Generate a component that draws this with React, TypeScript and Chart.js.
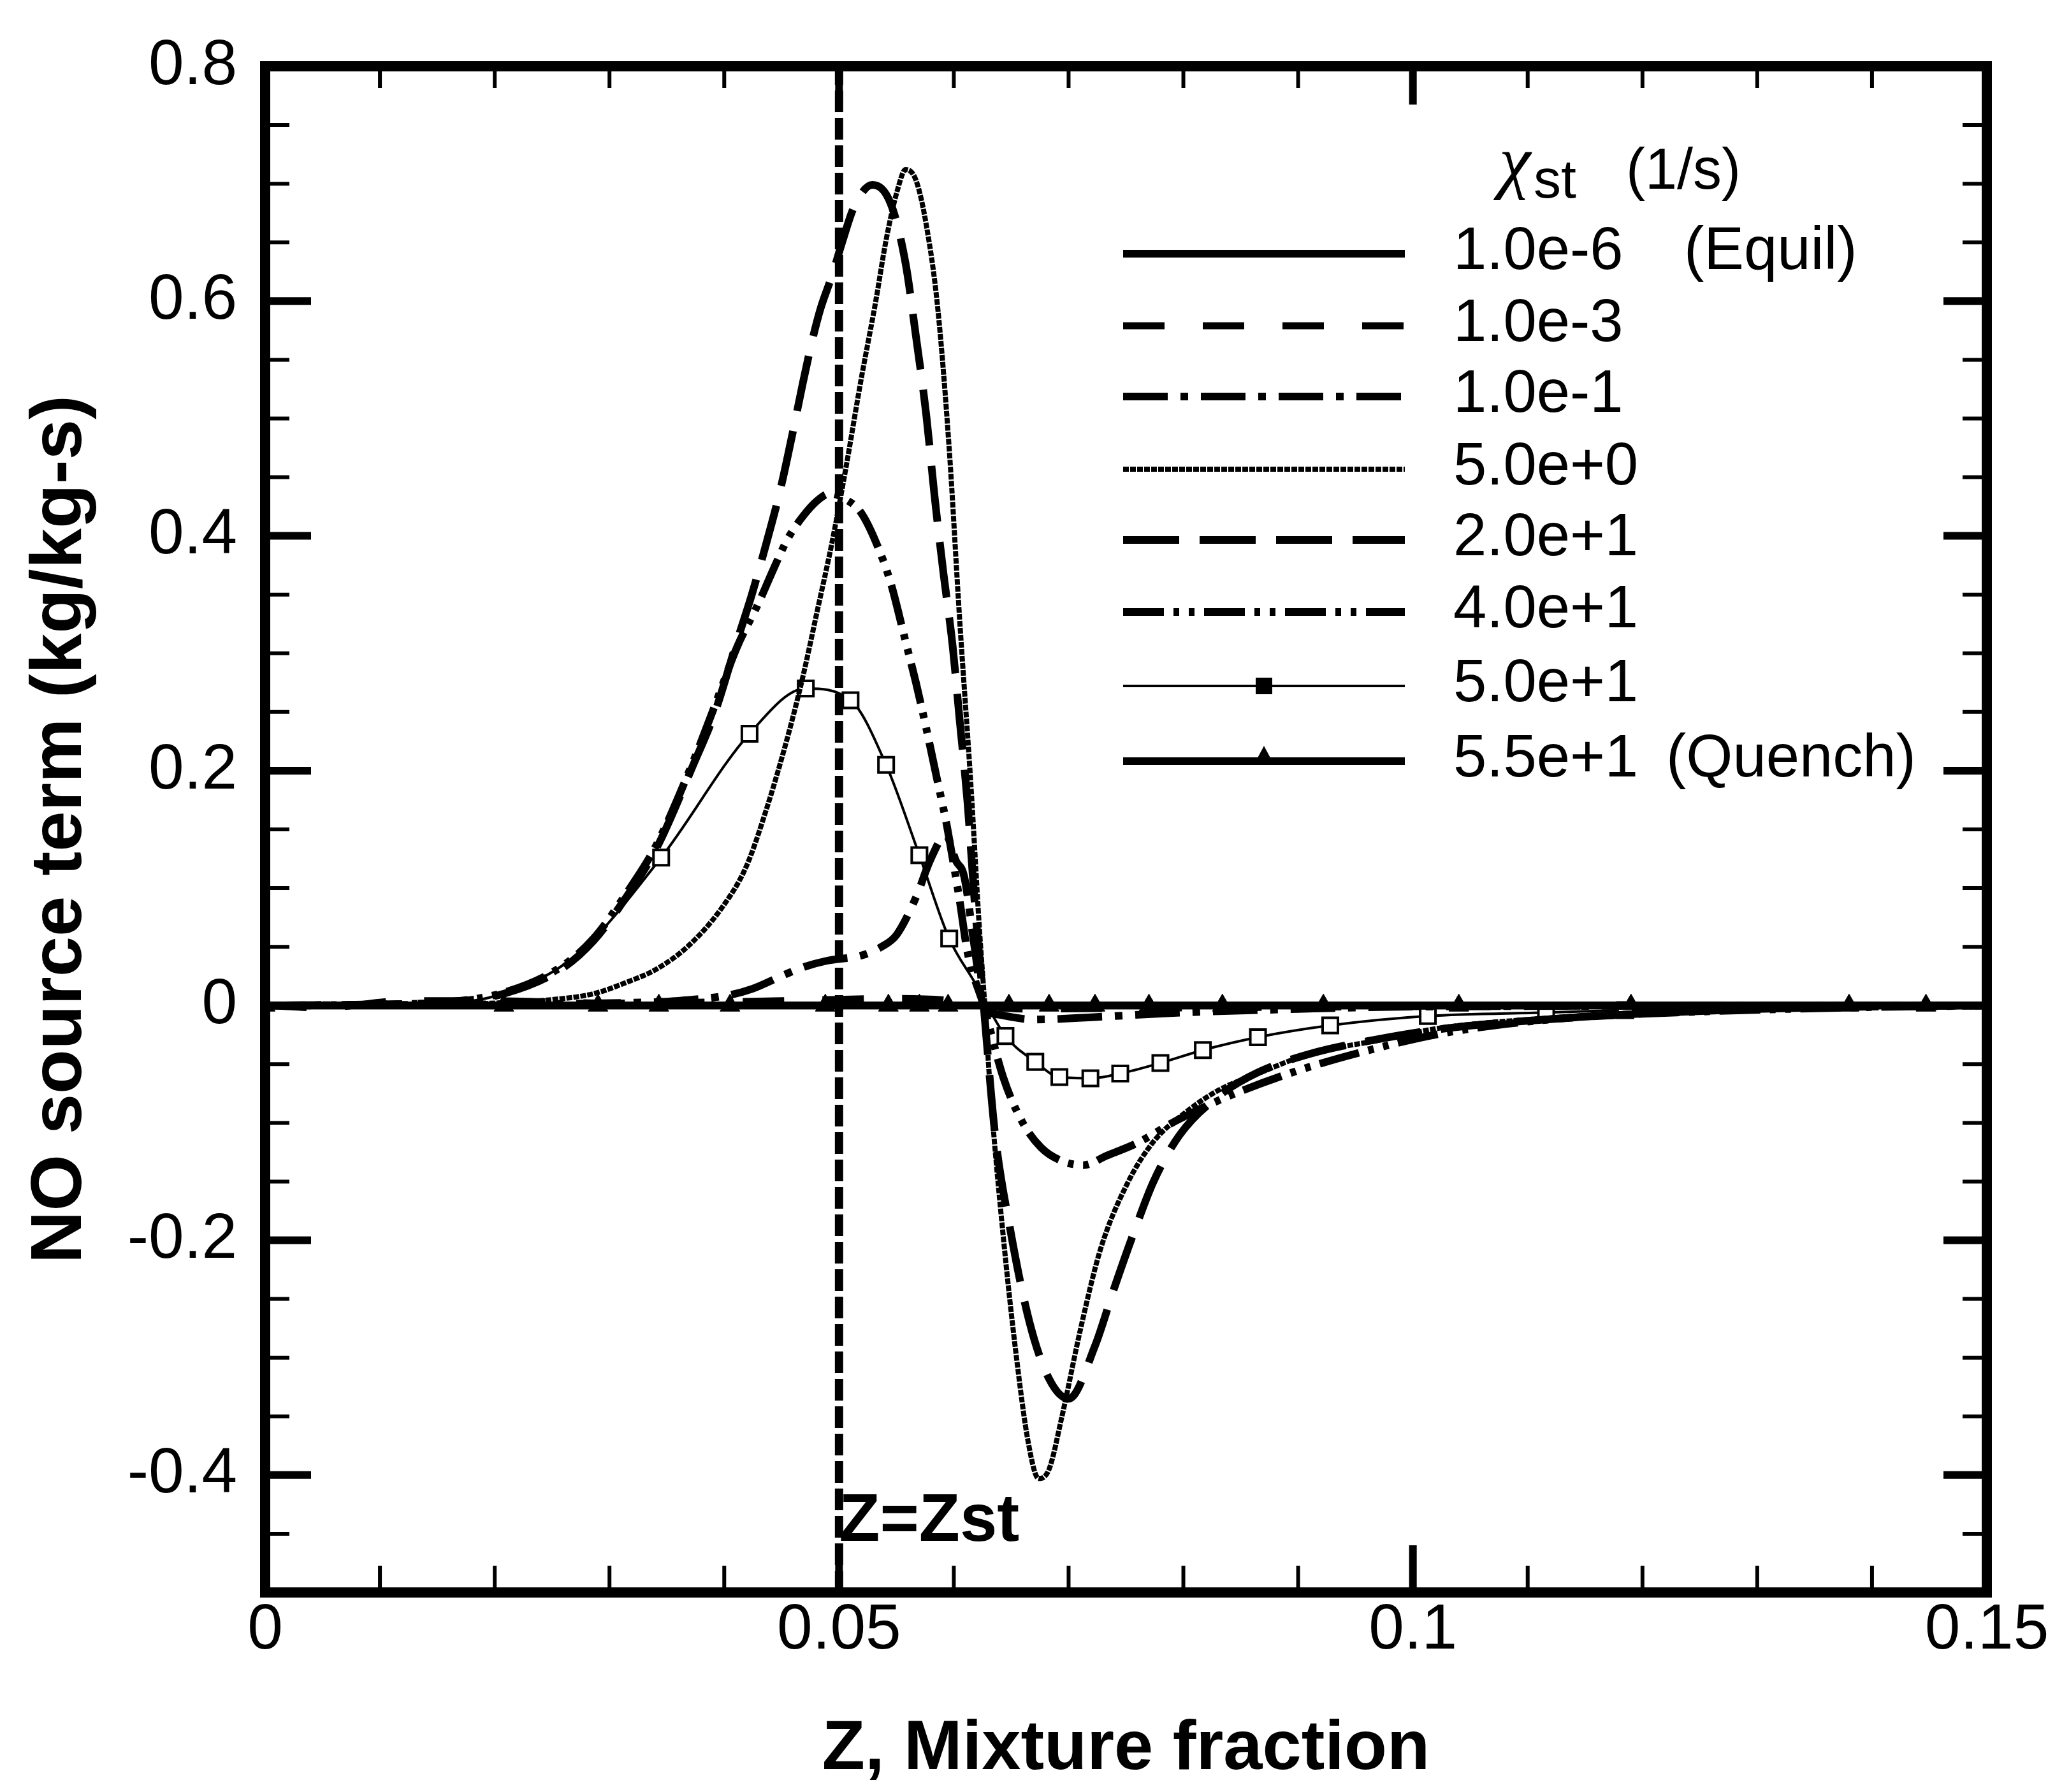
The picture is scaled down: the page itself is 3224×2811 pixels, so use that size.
import React, { useEffect, useRef } from "react";
import { Chart, registerables } from "chart.js";

Chart.register(...registerables);

const W = 3224;
const H = 2811;
const FONT = "'Liberation Sans', Arial, Helvetica, sans-serif";

// ---- axis ticks ----
const xMajorTicks = [0, 0.05, 0.1, 0.15];
const xTickLabels = ["0", "0.05", "0.1", "0.15"];
const xMinorTicks = [0.01, 0.02, 0.03, 0.04, 0.06, 0.07, 0.08, 0.09, 0.11, 0.12, 0.13, 0.14];
const yMajorTicks = [-0.4, -0.2, 0, 0.2, 0.4, 0.6, 0.8];
const yTickLabels = ["-0.4", "-0.2", "0", "0.2", "0.4", "0.6", "0.8"];
const yMinorTicks = [-0.45, -0.35, -0.3, -0.25, -0.15, -0.1, -0.05, 0.05, 0.1, 0.15, 0.25, 0.3, 0.35, 0.45, 0.5, 0.55, 0.65, 0.7, 0.75];

// ---- series: chi_st = 1.0e-6 (Equil) ----
const eqX = [0, 0.15];
const eqY = [0, 0];

// chi_st = 1.0e-3
const c1e3X = [0, 0.005, 0.012, 0.02, 0.03, 0.045, 0.055, 0.06, 0.0625, 0.066, 0.08, 0.1, 0.15];
const c1e3Y = [0, -0.002, 0.004, 0.004, 0.002, 0.004, 0.006, 0.004, 0, -0.003, -0.002, -0.001, 0];

// chi_st = 1.0e-1
const c1e1X = [0, 0.02, 0.03, 0.036, 0.0405, 0.0424, 0.0452, 0.047, 0.0489, 0.0521, 0.0537, 0.055, 0.0567, 0.058, 0.0593, 0.0602, 0.0609, 0.0618, 0.0626, 0.064, 0.067, 0.072, 0.08, 0.09, 0.1, 0.15];
const c1e1Y = [0, 0.001, 0.002, 0.004, 0.009, 0.014, 0.026, 0.033, 0.038, 0.043, 0.05, 0.06, 0.092, 0.125, 0.145, 0.123, 0.11, 0.05, 0, -0.008, -0.012, -0.01, -0.006, -0.003, -0.001, 0];

// chi_st = 5.0e+0
const c5X = [0, 0.015, 0.02, 0.025, 0.0286, 0.0313, 0.0341, 0.0369, 0.0397, 0.0419, 0.0437, 0.0455, 0.0468, 0.0481, 0.0494, 0.0506, 0.0519, 0.0532, 0.0541, 0.0551, 0.0558, 0.0567, 0.0576, 0.0586, 0.0596, 0.0605, 0.0615, 0.0622, 0.0627, 0.0632, 0.0643, 0.0654, 0.0665, 0.0674, 0.0683, 0.0694, 0.0711, 0.0728, 0.0751, 0.0774, 0.0802, 0.0831, 0.0865, 0.0911, 0.0968, 0.1025, 0.11, 0.12, 0.13, 0.14, 0.15];
const c5Y = [0, 0.001, 0.002, 0.005, 0.01, 0.019, 0.031, 0.051, 0.082, 0.118, 0.168, 0.228, 0.278, 0.336, 0.395, 0.458, 0.532, 0.6, 0.652, 0.695, 0.712, 0.703, 0.665, 0.594, 0.474, 0.33, 0.186, 0.07, 0, -0.075, -0.196, -0.295, -0.373, -0.403, -0.395, -0.351, -0.273, -0.207, -0.152, -0.116, -0.091, -0.072, -0.058, -0.041, -0.03, -0.019, -0.012, -0.006, -0.003, -0.001, 0];

// chi_st = 2.0e+1
const c20X = [0, 0.01, 0.016, 0.0208, 0.0258, 0.0286, 0.0313, 0.0341, 0.0373, 0.0392, 0.0411, 0.0424, 0.0437, 0.0449, 0.0459, 0.0468, 0.0477, 0.0484, 0.0494, 0.0503, 0.0513, 0.0529, 0.0545, 0.0558, 0.0567, 0.0576, 0.0583, 0.0591, 0.0599, 0.0605, 0.0612, 0.0618, 0.0626, 0.0636, 0.0649, 0.0666, 0.0683, 0.07, 0.0723, 0.074, 0.0757, 0.0774, 0.0797, 0.0831, 0.0865, 0.0911, 0.0968, 0.1025, 0.11, 0.12, 0.13, 0.14, 0.15];
const c20Y = [0, 0.001, 0.003, 0.01, 0.031, 0.055, 0.09, 0.134, 0.205, 0.25, 0.31, 0.35, 0.395, 0.44, 0.485, 0.528, 0.568, 0.594, 0.622, 0.651, 0.68, 0.699, 0.683, 0.632, 0.57, 0.503, 0.436, 0.368, 0.306, 0.244, 0.172, 0.09, 0, -0.11, -0.19, -0.27, -0.318, -0.335, -0.29, -0.24, -0.193, -0.15, -0.11, -0.077, -0.057, -0.041, -0.029, -0.02, -0.013, -0.007, -0.003, -0.001, 0];

// chi_st = 4.0e+1
const c40X = [0, 0.01, 0.016, 0.0208, 0.0258, 0.0286, 0.0313, 0.0341, 0.0373, 0.0392, 0.0411, 0.043, 0.0443, 0.0455, 0.0468, 0.0481, 0.0492, 0.0506, 0.0519, 0.0532, 0.0545, 0.0558, 0.0567, 0.0576, 0.0586, 0.0593, 0.0599, 0.0605, 0.0612, 0.0626, 0.0643, 0.0659, 0.0676, 0.0693, 0.0713, 0.0733, 0.076, 0.0794, 0.0834, 0.0895, 0.0962, 0.103, 0.113, 0.123, 0.137, 0.15];
const c40Y = [0, 0.001, 0.003, 0.011, 0.033, 0.057, 0.093, 0.137, 0.208, 0.256, 0.305, 0.343, 0.372, 0.397, 0.416, 0.43, 0.436, 0.431, 0.42, 0.395, 0.36, 0.31, 0.275, 0.236, 0.19, 0.158, 0.125, 0.09, 0.045, 0, -0.061, -0.098, -0.121, -0.132, -0.136, -0.128, -0.117, -0.098, -0.0795, -0.057, -0.038, -0.023, -0.011, -0.006, -0.002, 0];

// chi_st = 5.0e+1 (square symbols)
const c50X = [0, 0.015, 0.02, 0.027, 0.0345, 0.0422, 0.0471, 0.051, 0.0541, 0.057, 0.0596, 0.0618, 0.0645, 0.0671, 0.0692, 0.0719, 0.0745, 0.078, 0.0817, 0.0865, 0.0928, 0.1013, 0.1116, 0.1185, 0.13, 0.15];
const c50Y = [0, 0.002, 0.008, 0.042, 0.126, 0.2315, 0.27, 0.26, 0.205, 0.128, 0.057, 0.02, -0.026, -0.048, -0.061, -0.062, -0.058, -0.049, -0.038, -0.027, -0.017, -0.009, -0.006, -0.004, -0.002, 0];
const c50Marks = [0, 0, 0, 0, 1, 1, 1, 1, 1, 1, 1, 0, 1, 1, 1, 1, 1, 1, 1, 1, 1, 1, 1, 1, 0, 0];

// chi_st = 5.5e+1 (Quench, triangle symbols)
const c55X = [0, 0.0208, 0.029, 0.0343, 0.0405, 0.0488, 0.0543, 0.057, 0.0595, 0.0648, 0.0683, 0.0723, 0.077, 0.0834, 0.0922, 0.104, 0.119, 0.138, 0.1447, 0.15];
const c55Y = [0, 0, 0, 0, 0, 0, 0, 0, 0, 0, 0, 0, 0, 0, 0, 0, 0, 0, 0, 0];
const c55Marks = [1, 1, 1, 1, 1, 1, 1, 1, 1, 1, 1, 1, 1, 1, 1, 1, 1, 1, 1, 0];

// Z = Zst reference line
const zstX = [0.05, 0.05];
const zstY = [-0.5, 0.8];
const zstLabel = "Z=Zst";
const zstLabelY = -0.456;

const legendLabels = ["1.0e-6", "1.0e-3", "1.0e-1", "5.0e+0", "2.0e+1", "4.0e+1", "5.0e+1", "5.5e+1"];
const legendNotes = ["(Equil)", "", "", "", "", "", "", "(Quench)"];

const pts = (xs: number[], ys: number[]) => xs.map((x, i) => ({ x, y: ys[i] }));

const decorPlugin = {
  id: "decor",
  afterDatasetsDraw(chart: any) {
    const { ctx, chartArea: ca, scales } = chart;
    const xs = scales.x;
    const ys = scales.y;
    ctx.save();
    ctx.strokeStyle = "#000";
    ctx.lineCap = "butt";
    ctx.setLineDash([]);
    // minor ticks (inside, all four sides)
    ctx.lineWidth = 6;
    ctx.beginPath();
    xMinorTicks.forEach((v) => {
      const p = xs.getPixelForValue(v);
      ctx.moveTo(p, ca.bottom);
      ctx.lineTo(p, ca.bottom - 42);
      ctx.moveTo(p, ca.top);
      ctx.lineTo(p, ca.top + 34);
    });
    yMinorTicks.forEach((v) => {
      const p = ys.getPixelForValue(v);
      ctx.moveTo(ca.left, p);
      ctx.lineTo(ca.left + 38, p);
      ctx.moveTo(ca.right, p);
      ctx.lineTo(ca.right - 38, p);
    });
    ctx.stroke();
    // major ticks
    ctx.lineWidth = 12;
    ctx.beginPath();
    xMajorTicks.forEach((v) => {
      const p = xs.getPixelForValue(v);
      ctx.moveTo(p, ca.bottom);
      ctx.lineTo(p, ca.bottom - 74);
      ctx.moveTo(p, ca.top);
      ctx.lineTo(p, ca.top + 60);
    });
    yMajorTicks.forEach((v) => {
      const p = ys.getPixelForValue(v);
      ctx.moveTo(ca.left, p);
      ctx.lineTo(ca.left + 72, p);
      ctx.moveTo(ca.right, p);
      ctx.lineTo(ca.right - 68, p);
    });
    ctx.stroke();
    // frame
    ctx.lineWidth = 16;
    ctx.lineJoin = "miter";
    ctx.strokeRect(ca.left, ca.top, ca.right - ca.left, ca.bottom - ca.top);
    ctx.restore();
  },
  afterDraw(chart: any) {
    const { ctx, scales } = chart;
    const xs = scales.x;
    const ys = scales.y;
    ctx.save();
    ctx.fillStyle = "#000";
    ctx.strokeStyle = "#000";

    // Z = Zst label
    ctx.font = `bold 105px ${FONT}`;
    ctx.textAlign = "left";
    ctx.textBaseline = "alphabetic";
    ctx.fillText(zstLabel, xs.getPixelForValue(zstX[0]), ys.getPixelForValue(zstLabelY));

    // legend title: chi_st (1/s)
    ctx.font = `italic 112px 'Liberation Serif', 'DejaVu Serif', serif`;
    ctx.fillText("\u03c7", 2352, 290);
    ctx.font = `86px ${FONT}`;
    ctx.fillText("st", 2406, 310);
    ctx.font = `90px ${FONT}`;
    ctx.fillText("(1/s)", 2551, 296);

    // legend rows
    const rows = [398, 511, 622, 736, 847, 960, 1076, 1194];
    const lx0 = 1762;
    const lx1 = 2204;
    const mid = (lx0 + lx1) / 2;
    const noteX = [2642, 0, 0, 0, 0, 0, 0, 2614];
    chart.data.datasets.slice(0, 8).forEach((ds: any, i: number) => {
      const y = rows[i];
      ctx.lineWidth = ds.borderWidth;
      ctx.lineCap = "butt";
      ctx.setLineDash(ds.borderDash || []);
      ctx.beginPath();
      ctx.moveTo(lx0, y);
      ctx.lineTo(lx1, y);
      ctx.stroke();
      ctx.setLineDash([]);
      if (ds.legendMarker === "rect") {
        ctx.fillRect(mid - 13, y - 13, 26, 26);
      } else if (ds.legendMarker === "triangle") {
        ctx.beginPath();
        ctx.moveTo(mid, y - 24);
        ctx.lineTo(mid + 15, y + 4);
        ctx.lineTo(mid - 15, y + 4);
        ctx.closePath();
        ctx.fill();
      }
      ctx.font = `94px ${FONT}`;
      ctx.fillText(legendLabels[i], 2280, y + 24);
      if (legendNotes[i]) ctx.fillText(legendNotes[i], noteX[i], y + 24);
    });
    ctx.restore();
  },
};

export default function App() {
  const ref = useRef<HTMLCanvasElement | null>(null);

  useEffect(() => {
    if (!ref.current) return;
    const base = {
      borderColor: "#000",
      backgroundColor: "#000",
      pointRadius: 0,
      fill: false,
      cubicInterpolationMode: "monotone",
      borderCapStyle: "butt",
    };
    const chart = new Chart(ref.current, {
      type: "line",
      data: {
        datasets: [
          { ...base, label: legendLabels[0], data: pts(eqX, eqY), borderWidth: 12, borderDash: [] },
          { ...base, label: legendLabels[1], data: pts(c1e3X, c1e3Y), borderWidth: 11, borderDash: [65, 60] },
          { ...base, label: legendLabels[2], data: pts(c1e1X, c1e1Y), borderWidth: 12, borderDash: [70, 20, 12, 20] },
          { ...base, label: legendLabels[3], data: pts(c5X, c5Y), borderWidth: 8, borderDash: [9, 2] },
          { ...base, label: legendLabels[4], data: pts(c20X, c20Y), borderWidth: 12, borderDash: [88, 32] },
          { ...base, label: legendLabels[5], data: pts(c40X, c40Y), borderWidth: 12, borderDash: [64, 15, 9, 15, 9, 15] },
          {
            ...base,
            label: legendLabels[6],
            data: pts(c50X, c50Y),
            borderWidth: 4,
            borderDash: [],
            legendMarker: "rect",
            pointStyle: "rect",
            pointRadius: (c: any) => (c50Marks[c.dataIndex] ? 17 : 0),
            pointBorderWidth: 4,
            pointBorderColor: "#000",
            pointBackgroundColor: "#fff",
          },
          {
            ...base,
            label: legendLabels[7],
            data: pts(c55X, c55Y),
            borderWidth: 12,
            borderDash: [],
            legendMarker: "triangle",
            pointStyle: "triangle",
            pointRadius: (c: any) => (c55Marks[c.dataIndex] ? 18 : 0),
            pointBorderWidth: 1,
            pointBorderColor: "#000",
            pointBackgroundColor: "#000",
          },
          { ...base, label: "Z=Zst", data: pts(zstX, zstY), borderWidth: 13, borderDash: [34, 9], cubicInterpolationMode: "default", tension: 0 },
        ],
      },
      options: {
        responsive: false,
        maintainAspectRatio: false,
        animation: false,
        devicePixelRatio: 1,
        events: [],
        layout: { padding: { left: 0, top: 72, right: 107, bottom: 0 } },
        plugins: { legend: { display: false }, tooltip: { enabled: false }, title: { display: false } },
        scales: {
          x: {
            type: "linear",
            position: "bottom",
            min: 0,
            max: 0.15,
            grid: { display: false, drawTicks: false },
            border: { display: false },
            ticks: {
              color: "#000",
              font: { family: FONT, size: 100 },
              padding: 0,
              maxRotation: 0,
              minRotation: 0,
              autoSkip: false,
              callback: (v: any) => {
                const i = xMajorTicks.indexOf(v);
                return i >= 0 ? xTickLabels[i] : "";
              },
            },
            afterBuildTicks: (s: any) => {
              s.ticks = xMajorTicks.map((v) => ({ value: v }));
            },
            afterFit: (s: any) => {
              s.height = 313;
            },
            title: {
              display: true,
              text: "Z, Mixture fraction",
              color: "#000",
              font: { family: FONT, size: 110, weight: "bold" },
              padding: { top: 0, bottom: 0 },
            },
          },
          y: {
            type: "linear",
            position: "left",
            min: -0.5,
            max: 0.8,
            grid: { display: false, drawTicks: false },
            border: { display: false },
            ticks: {
              color: "#000",
              font: { family: FONT, size: 100 },
              padding: 44,
              autoSkip: false,
              callback: (v: any) => {
                const i = yMajorTicks.indexOf(v);
                return i >= 0 ? yTickLabels[i] : "";
              },
            },
            afterBuildTicks: (s: any) => {
              s.ticks = yMajorTicks.map((v) => ({ value: v }));
            },
            afterFit: (s: any) => {
              s.width = 416;
            },
            title: {
              display: true,
              text: "NO source term (kg/kg-s)",
              color: "#000",
              font: { family: FONT, size: 114, weight: "bold" },
              padding: { top: 27, bottom: 0 },
            },
          },
        },
      },
      plugins: [decorPlugin],
    } as any);
    return () => chart.destroy();
  }, []);

  return (
    <canvas
      ref={ref}
      width={W}
      height={H}
      style={{ position: "absolute", left: 0, top: 0, width: `${W}px`, height: `${H}px`, background: "#fff" }}
    />
  );
}
